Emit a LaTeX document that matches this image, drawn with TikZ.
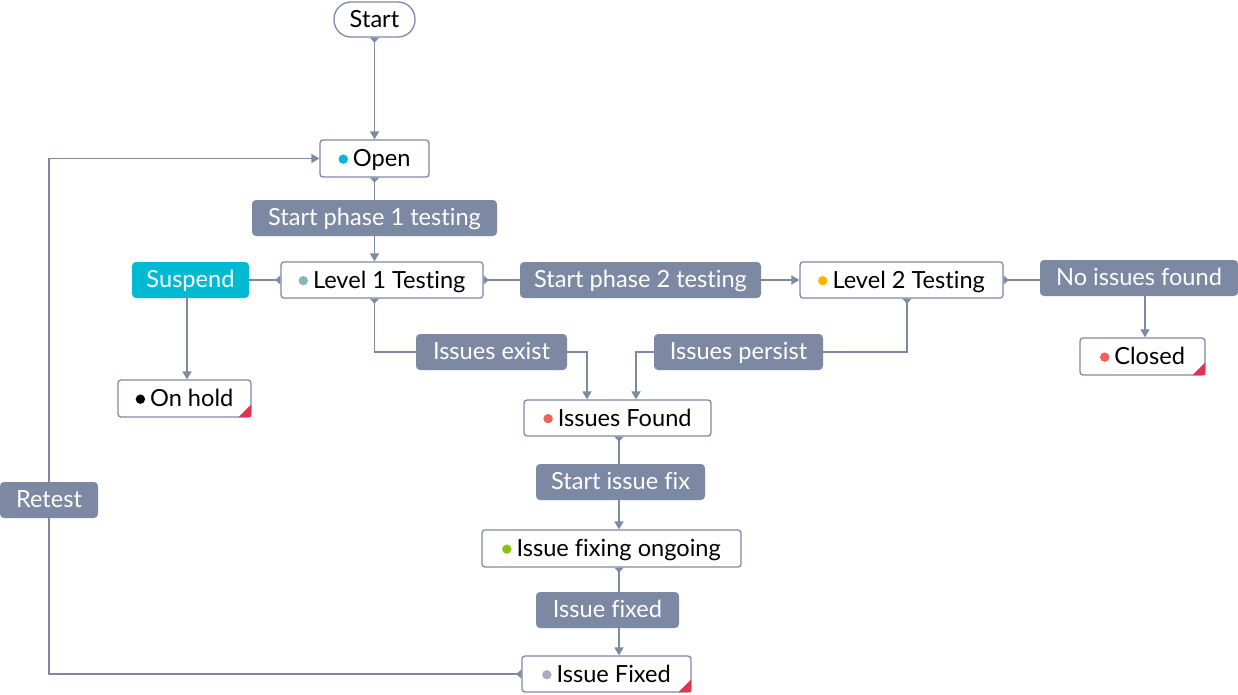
\documentclass[tikz,border=0pt]{standalone}
\usepackage{fontspec}
\setmainfont{Lato}[Ligatures={NoCommon}]
\usetikzlibrary{arrows.meta,backgrounds}
\definecolor{ln}{RGB}{126,137,163}
\definecolor{labc}{RGB}{125,136,163}
\definecolor{susc}{RGB}{0,186,212}
\definecolor{dopen}{RGB}{0,186,212}
\definecolor{dlone}{RGB}{134,182,182}
\definecolor{dltwo}{RGB}{255,179,0}
\definecolor{dred}{RGB}{240,96,90}
\definecolor{dgreen}{RGB}{139,195,26}
\definecolor{dgray}{RGB}{166,174,191}
\definecolor{corner}{RGB}{224,52,80}
\newcommand{\sdot}[1]{\raisebox{0.22ex}{\tikz\fill[#1] (0pt,0pt) circle (4.7pt);}\hspace{5pt}}
\begin{document}
\begin{tikzpicture}[x=1pt,y=-1pt,
  font=\fontsize{23.6}{26}\selectfont,
  state/.style={draw=ln, line width=1.3pt, fill=white, rounded corners=3pt, minimum height=36pt, inner sep=0pt, text height=17pt, text depth=1pt, text=black},
  lab/.style={fill=labc, text=white, rounded corners=4pt, minimum height=36pt, inner sep=0pt, text height=17pt, text depth=1.5pt},
  conn/.style={draw=ln, line width=1.7pt},
  src/.style={{Triangle[reversed,length=5pt,width=9pt]}-},
  srcarr/.style={{Triangle[reversed,length=5pt,width=9pt]}-{Triangle[length=8pt,width=9pt]}},
  arr/.style={-{Triangle[length=8pt,width=9pt]}}
]
\useasboundingbox (0,0) rectangle (1238,694);
% states
\node[state, rounded corners=17pt, minimum width=81pt, minimum height=35pt] (start) at (374.5,19.5) {Start};
\node[state, minimum width=109pt, minimum height=37pt] (open) at (374.5,158.5) {\sdot{dopen}Open};
\node[state, minimum width=202pt] (l1) at (382,280) {\sdot{dlone}Level 1 Testing};
\node[state, minimum width=133pt, minimum height=37pt] (hold) at (184.5,398.5) {\sdot{black}On hold};
\node[state, minimum width=203pt] (l2) at (901.5,280) {\sdot{dltwo}Level 2 Testing};
\node[state, minimum width=125pt, minimum height=37pt] (closed) at (1142.5,356.5) {\sdot{dred}Closed};
\node[state, minimum width=187pt] (ifound) at (617.5,418) {\sdot{dred}Issues Found};
\node[state, minimum width=259pt, minimum height=37pt] (ongoing) at (611.5,548.5) {\sdot{dgreen}Issue fixing ongoing};
\node[state, minimum width=169pt] (ifixed) at (606.5,674) {\sdot{dgray}Issue Fixed};
% corner marks
\foreach \n in {hold,closed,ifixed}{
  \fill[corner] ([xshift=-13pt,yshift=0.6pt]\n.south east) -- ([xshift=-0.6pt,yshift=0.6pt]\n.south east) -- ([xshift=-0.6pt,yshift=13pt]\n.south east) -- cycle;
}
% labels
\node[lab, minimum width=245pt] (p1) at (374.5,218) {Start phase 1 testing};
\node[lab, fill=susc, minimum width=117pt] (susp) at (190.5,280) {Suspend};
\node[lab, minimum width=241pt] (p2) at (640.5,280) {Start phase 2 testing};
\node[lab, minimum width=198pt] (nif) at (1139,278) {No issues found};
\node[lab, minimum width=151pt] (iexist) at (491.5,352) {Issues exist};
\node[lab, minimum width=169pt] (ipersist) at (738.5,352) {Issues persist};
\node[lab, minimum width=169pt] (sfix) at (620.5,482) {Start issue fix};
\node[lab, minimum width=143pt] (fixed) at (607.5,610) {Issue fixed};
\node[lab, minimum width=98pt] (retest) at (49,500) {Retest};
% connectors
\begin{scope}[on background layer]
\draw[conn, srcarr] (start.south) -- (open.north);
\draw[conn, srcarr] (open.south) -- (l1.north -| open.south);
\draw[conn, src] (l1.west) -- (susp.east);
\draw[conn, arr] ([xshift=-3.5pt]susp.south) -- ([xshift=2.5pt]hold.north);
\draw[conn, srcarr] (l1.east) -- (l2.west);
\draw[conn, srcarr] (l2.east) -| ([xshift=2.5pt]closed.north);
\draw[conn, srcarr] (l1.south -| open.south) |- (iexist.center) -| ([xshift=-30.5pt]ifound.north);
\draw[conn, srcarr] ([xshift=5.5pt]l2.south) |- (ipersist.center) -| ([xshift=18.5pt]ifound.north);
\draw[conn, srcarr] ([xshift=1.5pt]ifound.south) -- ([xshift=7.5pt]ongoing.north);
\draw[conn, srcarr] ([xshift=7.5pt]ongoing.south) -- ([xshift=12.5pt]ifixed.north);
\draw[conn, srcarr] (ifixed.west) -| (retest.center) |- (open.west);
\end{scope}
\end{tikzpicture}
\end{document}
